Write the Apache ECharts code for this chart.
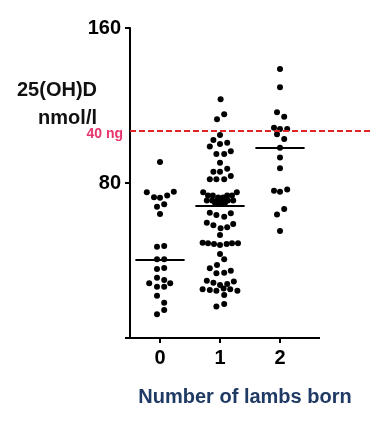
<!DOCTYPE html>
<html>
<head>
<meta charset="utf-8">
<script src="https://cdn.jsdelivr.net/npm/echarts@6/dist/echarts.min.js"></script>
<style>html,body{margin:0;padding:0;background:#fff;}#c{width:386px;height:436px;}</style>
</head>
<body>
<div id="c"></div>
<script>
// ---- data ----
var categories = ['0', '1', '2'];
var tickValues = [0, 80, 160];
var thresholdValue = 107;
var thresholdLabel = '40 ng';
var yTitleLines = ['25(OH)D', 'nmol/l'];
var xTitle = 'Number of lambs born';

var group0Values = [90.9, 75.2, 75.5, 72.6, 72.4, 73.5, 67.8, 69.0, 64.0, 47.1, 47.5, 40.6, 40.6, 35.6, 36.1, 31.1, 29.9, 28.2, 26.5, 26.5, 28.2, 21.8, 18.2, 14.5, 12.2];
var group0Jitter = [0, -0.22, 0.23, -0.1, 0, 0.12, -0.05, 0.07, 0, -0.05, 0.07, -0.05, 0.07, -0.05, 0.07, -0.05, 0.07, -0.18, -0.05, 0.07, 0.17, -0.05, 0.07, 0.07, -0.05];

var group1Values = [123.2, 115.5, 112.9, 104.8, 102.2, 98.8, 100.1, 100.8, 95.0, 95.0, 96.4, 90.5, 85.8, 85.8, 87.4, 81.9, 81.9, 81.9, 83.6,
  75.2, 75.2, 73.5, 73.5, 73.5, 73.5, 72.5, 72.5, 71.0, 71.0, 71.0, 71.0, 71.0, 71.0, 69.5, 69.5, 69.5,
  64.7, 63.5, 62.6, 64.4, 59.5, 58.2, 56.6, 57.1, 58.8, 53.2,
  49.2, 48.9, 48.5, 48.0, 48.5, 48.9, 48.9, 43.4, 40.6,
  37.7, 36.0, 33.4, 33.7, 34.7, 29.6, 28.5, 27.4, 27.9, 29.1,
  25.1, 24.8, 24.4, 25.6, 25.1, 24.4, 22.2, 16.2, 17.5];
var group1Jitter = [0.01, 0.07, -0.05, 0, -0.11, -0.17, 0, 0.12, -0.06, 0.07, 0.18, 0, -0.11, 0, 0.12, -0.17, -0.06, 0.07, 0.18,
  -0.28, 0.28, -0.2, -0.12, 0.12, 0.2, -0.03, 0.05, -0.22, -0.13, -0.05, 0.05, 0.13, 0.22, -0.08, 0, 0.08,
  -0.17, -0.06, 0.07, 0.18, -0.22, -0.11, 0.01, 0.12, 0.22, 0,
  -0.29, -0.2, -0.1, 0, 0.11, 0.2, 0.3, 0, 0.07,
  -0.05, -0.17, -0.06, 0.07, 0.18, -0.22, -0.11, 0, 0.12, 0.23,
  -0.29, -0.17, -0.06, 0.06, 0.17, 0.29, 0.07, -0.06, 0.07];

var group2Values = [138.8, 129.4, 116.5, 114.2, 108.5, 107.9, 107.9, 105.1, 102.7, 98.2, 93.1, 87.6, 76.0, 75.5, 76.7, 66.6, 63.8, 55.2];
var group2Jitter = [0, 0, -0.05, 0.07, -0.1, 0, 0.12, -0.05, 0.07, 0, 0, 0, -0.1, 0, 0.12, 0.07, -0.05, 0];

var medians = [40.6, 68.5, 98.2];

// ---- build ----
var groupsV = [group0Values, group1Values, group2Values];
var groupsJ = [group0Jitter, group1Jitter, group2Jitter];
var FONT = '"Liberation Sans", Arial, sans-serif';

var series = groupsV.map(function (vals, gi) {
  return {
    type: 'scatter',
    symbol: 'circle',
    symbolSize: 6,
    itemStyle: { color: '#000', opacity: 1 },
    silent: true,
    data: vals.map(function (v, i) { return [gi + groupsJ[gi][i], v]; }),
    markLine: {
      silent: true,
      symbol: 'none',
      animation: false,
      label: { show: false },
      lineStyle: { color: '#000', width: 2, type: 'solid' },
      data: [[{ coord: [gi - 0.41, medians[gi]] }, { coord: [gi + 0.41, medians[gi]] }]]
    }
  };
});

// x axis baseline + threshold line
series.push({
  type: 'line',
  data: [],
  silent: true,
  markLine: {
    silent: true,
    symbol: 'none',
    animation: false,
    data: [
      [{ coord: [-0.5, 0], lineStyle: { color: '#000', width: 2, type: 'solid' }, label: { show: false } },
       { coord: [2.667, 0] }],
      [{ coord: [-0.5, thresholdValue], lineStyle: { color: '#e02424', width: 2, type: [6, 3] },
         label: { show: true, position: 'start', formatter: thresholdLabel, color: '#e8346c', fontSize: 14, fontWeight: 'bold', fontFamily: FONT, distance: 7, offset: [0, 3] } },
       { coord: [3.5, thresholdValue] }]
    ]
  }
});

var chart = echarts.init(document.getElementById('c'), null, { renderer: 'canvas' });
chart.setOption({
  animation: false,
  backgroundColor: '#fff',
  grid: { left: 130, right: 16, top: 28, bottom: 98, containLabel: false },
  xAxis: {
    type: 'value',
    min: -0.5,
    max: 3.5,
    splitLine: { show: false },
    axisLine: { show: false, onZero: false },
    axisTick: { show: true, customValues: [0, 1, 2], length: 5, lineStyle: { color: '#000', width: 2 } },
    axisLabel: {
      customValues: [0, 1, 2],
      formatter: function (v) { return categories[Math.round(v)]; },
      color: '#000', fontWeight: 'bold', fontSize: 20, fontFamily: FONT, margin: 10
    }
  },
  yAxis: {
    type: 'value',
    min: tickValues[0],
    max: tickValues[2],
    interval: tickValues[1] - tickValues[0],
    splitLine: { show: false },
    axisLine: { show: true, onZero: false, lineStyle: { color: '#000', width: 2 } },
    axisTick: { show: true, length: 5, lineStyle: { color: '#000', width: 2 } },
    axisLabel: {
      formatter: function (v) { return v === 0 ? '' : String(v); },
      color: '#000', fontWeight: 'bold', fontSize: 20, fontFamily: FONT, margin: 9
    }
  },
  graphic: [
    { type: 'text', x: 97, y: 90, style: { text: yTitleLines[0], fill: '#111', font: 'bold 20px ' + FONT, textAlign: 'right', textVerticalAlign: 'middle' } },
    { type: 'text', x: 97, y: 118, style: { text: yTitleLines[1], fill: '#111', font: 'bold 20px ' + FONT, textAlign: 'right', textVerticalAlign: 'middle' } },
    { type: 'text', x: 245, y: 397, style: { text: xTitle, fill: '#1f3a64', font: 'bold 20px ' + FONT, textAlign: 'center', textVerticalAlign: 'middle' } }
  ],
  series: series
});
</script>
</body>
</html>
